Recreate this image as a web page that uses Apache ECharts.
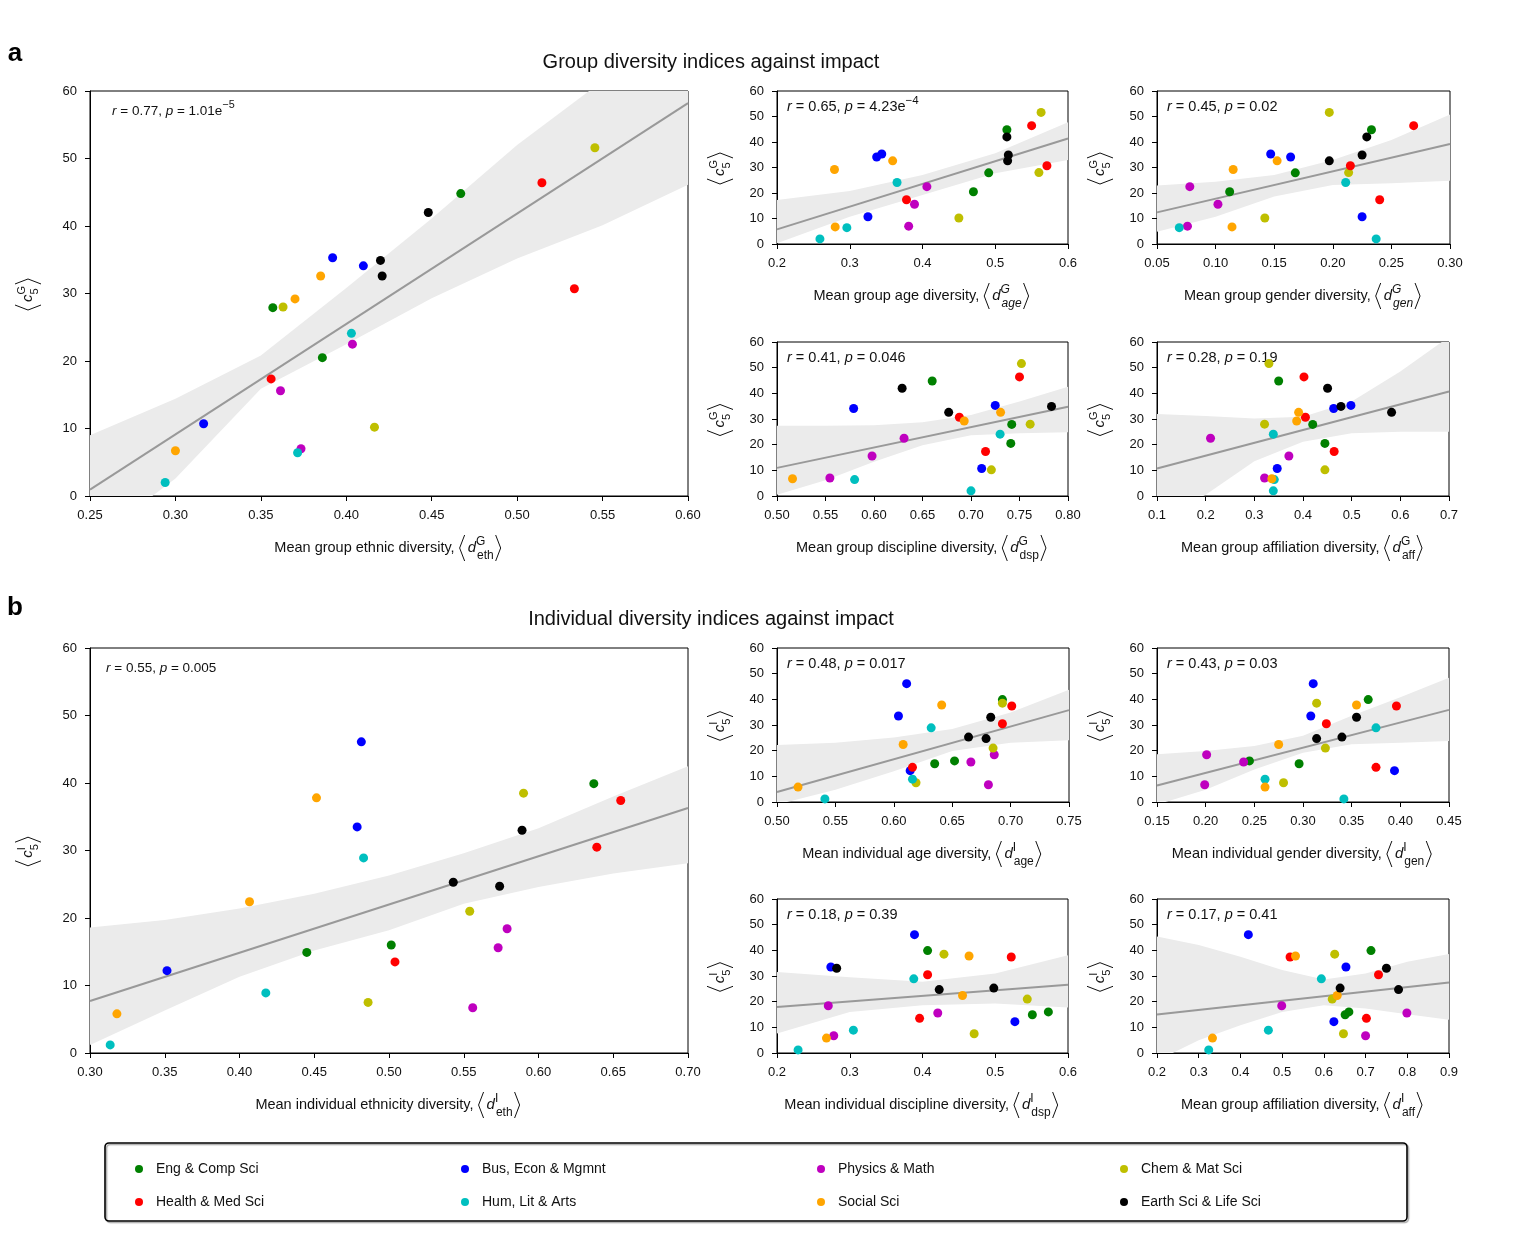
<!DOCTYPE html>
<html>
<head>
<meta charset="utf-8">
<script src="https://cdn.jsdelivr.net/npm/echarts@6/dist/echarts.min.js"></script>
<style>
html, body { margin: 0; padding: 0; background: #fff; }
#chart { width: 1540px; height: 1241px; }
</style>
</head>
<body>
<div id="chart"></div>
<script>
// categories and colours (matplotlib base colours)
var categories = ['Eng & Comp Sci', 'Bus, Econ & Mgmnt', 'Physics & Math', 'Chem & Mat Sci',
	'Health & Med Sci', 'Hum, Lit & Arts', 'Social Sci', 'Earth Sci & Life Sci'];
var colors = ['#008000', '#0000ff', '#bf00bf', '#bfbf00', '#ff0000', '#00bfbf', '#ffa500', '#000000'];

// --- a: group diversity, impact c5^G (3 groups per category) ---
var impactG = [[27.9, 20.5, 44.8], [10.7, 35.3, 34.1], [15.6, 22.5, 7.0], [28.0, 10.2, 51.6],
	[17.35, 46.4, 30.7], [2.0, 24.1, 6.4], [6.7, 29.2, 32.6], [34.9, 32.6, 42.0]];
var ethG = [[0.357, 0.386, 0.467], [0.3165, 0.392, 0.410], [0.3615, 0.4036, 0.3735], [0.363, 0.4165, 0.5455],
	[0.356, 0.5145, 0.5335], [0.294, 0.403, 0.3715], [0.300, 0.370, 0.385], [0.420, 0.421, 0.448]];
var ageG = [[0.491, 0.470, 0.516], [0.325, 0.344, 0.337], [0.389, 0.406, 0.381], [0.560, 0.450, 0.563],
	[0.378, 0.550, 0.571], [0.259, 0.365, 0.296], [0.280, 0.279, 0.359], [0.518, 0.517, 0.516]];
var genG = [[0.168, 0.112, 0.233], [0.225, 0.147, 0.164], [0.102, 0.078, 0.076], [0.2135, 0.142, 0.197],
	[0.240, 0.269, 0.215], [0.237, 0.211, 0.069], [0.114, 0.115, 0.1525], [0.225, 0.197, 0.229]];
var dspG = [[0.742, 0.741, 0.660], [0.711, 0.725, 0.579], [0.598, 0.631, 0.5545], [0.761, 0.721, 0.752],
	[0.715, 0.750, 0.688], [0.700, 0.730, 0.580], [0.516, 0.693, 0.7305], [0.783, 0.677, 0.629]];
var affG = [[0.420, 0.445, 0.350], [0.347, 0.4985, 0.463], [0.371, 0.210, 0.321], [0.321, 0.445, 0.330],
	[0.464, 0.402, 0.405], [0.339, 0.339, 0.341], [0.336, 0.387, 0.391], [0.478, 0.582, 0.4505]];

// --- b: individual diversity, impact c5^I ---
var impactI = [[14.9, 16.0, 39.9], [12.2, 46.1, 33.5], [6.7, 15.6, 18.4], [7.5, 21.0, 38.5],
	[13.5, 30.5, 37.4], [1.2, 8.9, 28.9], [5.8, 22.4, 37.8], [25.3, 24.7, 33.0]];
var ethI = [[0.445, 0.5015, 0.637], [0.3515, 0.4815, 0.4787], [0.556, 0.573, 0.579], [0.486, 0.554, 0.590],
	[0.504, 0.639, 0.655], [0.3135, 0.4176, 0.483], [0.318, 0.4067, 0.4515], [0.543, 0.574, 0.589]];
var ageI = [[0.635, 0.652, 0.693], [0.614, 0.611, 0.604], [0.681, 0.666, 0.686], [0.619, 0.685, 0.693],
	[0.616, 0.693, 0.701], [0.541, 0.616, 0.632], [0.518, 0.608, 0.641], [0.664, 0.679, 0.683]];
var genI = [[0.296, 0.245, 0.367], [0.394, 0.3105, 0.308], [0.199, 0.239, 0.201], [0.280, 0.323, 0.314],
	[0.375, 0.324, 0.396], [0.342, 0.261, 0.375], [0.261, 0.275, 0.355], [0.340, 0.314, 0.355]];
var dspI = [[0.551, 0.573, 0.407], [0.527, 0.389, 0.274], [0.278, 0.421, 0.2705], [0.471, 0.544, 0.4295],
	[0.396, 0.407, 0.522], [0.229, 0.305, 0.388], [0.268, 0.455, 0.464], [0.498, 0.423, 0.282]];
var affI = [[0.651, 0.660, 0.713], [0.624, 0.419, 0.653], [0.700, 0.799, 0.499], [0.647, 0.620, 0.626],
	[0.702, 0.731, 0.519], [0.324, 0.467, 0.594], [0.333, 0.632, 0.532], [0.639, 0.779, 0.750]];

// regression lines [x, y] and confidence bands [x, lower, upper]
var fitEthG = [[0.25, 0.94], [0.60, 58.2]];
var bandEthG = [[0.25, -7, 9.0], [0.30, 2.6, 14.4], [0.35, 15.9, 20.8], [0.40, 22.5, 30.8], [0.45, 29.3, 41.1],
	[0.50, 35.2, 52.0], [0.55, 40.1, 61.5], [0.60, 46.1, 68]];
var fitAgeG = [[0.2, 5.75], [0.6, 41.4]];
var bandAgeG = [[0.2, 0.3, 17.3], [0.3, 10.7, 20.8], [0.4, 19.2, 27.1], [0.5, 27.7, 35.6], [0.6, 32.9, 47.7]];
var fitGenG = [[0.05, 12.4], [0.30, 39.2]];
var bandGenG = [[0.05, 4.8, 22.9], [0.10, 10.7, 24.4], [0.15, 18.6, 27.1], [0.20, 23.1, 32.9], [0.25, 23.8, 40.8], [0.30, 24.8, 50.8]];
var fitDspG = [[0.50, 10.95], [0.80, 34.8]];
var bandDspG = [[0.50, 0.5, 27.4], [0.55, 6.1, 27.4], [0.60, 13.3, 27.6], [0.65, 19.8, 28.7], [0.70, 23.7, 31.6],
	[0.75, 24.4, 36.8], [0.80, 24.8, 42.6]];
var fitAffG = [[0.1, 10.7], [0.7, 40.7]];
var bandAffG = [[0.1, -10, 31.9], [0.2, 0.5, 31.2], [0.3, 13.5, 30.2], [0.4, 21.1, 30.9], [0.5, 24.4, 36.8],
	[0.6, 25.0, 48.5], [0.7, 25.0, 62]];

var fitEthI = [[0.30, 7.7], [0.70, 36.3]];
var bandEthI = [[0.30, 1.2, 18.6], [0.35, 6.3, 19.7], [0.40, 11.3, 21.4], [0.45, 15.2, 23.6], [0.50, 18.2, 26.3],
	[0.55, 22.1, 29.6], [0.60, 24.6, 33.3], [0.65, 26.6, 38.0], [0.70, 28.1, 42.5]];
var fitAgeI = [[0.50, 3.9], [0.75, 35.8]];
var bandAgeI = [[0.50, -1, 22.2], [0.55, 4.8, 23.1], [0.60, 12.0, 25.1], [0.65, 19.9, 28.4], [0.70, 23.1, 34.9], [0.75, 24.1, 43.7]];
var fitGenI = [[0.15, 6.4], [0.45, 35.9]];
var bandGenI = [[0.15, -1, 18.6], [0.20, 4.8, 19.9], [0.25, 12.7, 21.8], [0.30, 19.2, 25.8], [0.35, 22.5, 33.6],
	[0.40, 23.1, 40.8], [0.45, 23.8, 48.4]];
var fitDspI = [[0.2, 17.9], [0.6, 26.6]];
var bandDspI = [[0.2, 7.6, 31.6], [0.3, 16.0, 29.5], [0.4, 18.6, 27.8], [0.5, 19.3, 31.0], [0.6, 17.7, 38.1]];
var fitAffI = [[0.2, 15.0], [0.9, 27.5]];
var bandAffI = [[0.2, -3, 45.4], [0.3, 5.0, 42.1], [0.4, 10.8, 37.5], [0.5, 16.0, 32.3], [0.6, 18.6, 28.6],
	[0.7, 17.3, 31.0], [0.8, 15.1, 35.6], [0.9, 13.0, 38.6]];

// r / p annotations
var statsG = [['0.77', '1.01e', '−5'], ['0.65', '4.23e', '−4'], ['0.45', '0.02'], ['0.41', '0.046'], ['0.28', '0.19']];
var statsI = [['0.55', '0.005'], ['0.48', '0.017'], ['0.43', '0.03'], ['0.18', '0.39'], ['0.17', '0.41']];

var FONT = '"Liberation Sans", Arial, Helvetica, sans-serif';
var measureCtx = document.createElement('canvas').getContext('2d');

function textWidth(str, size, italic) {
	measureCtx.font = (italic ? 'italic ' : '') + size + 'px ' + FONT;
	return measureCtx.measureText(str).width;
}
function textEl(str, x, y, size, italic) {
	return {
		type: 'text', x: x, y: y, silent: true,
		style: {
			text: str, font: (italic ? 'italic ' : '') + size + 'px ' + FONT,
			fill: '#111', textAlign: 'left', textVerticalAlign: 'middle'
		}
	};
}
// lays out text pieces, stacked super/subscripts and angle brackets in one group
function mathGroup(pieces, x, y, align, rotation) {
	var kids = [], cx = 0;
	pieces.forEach(function (p) {
		if (p.br) {
			var w = 5, h = p.h;
			var pts = p.br === 'l'
				? [[cx + 1 + w, -h / 2], [cx + 1, 0], [cx + 1 + w, h / 2]]
				: [[cx + 1, -h / 2], [cx + 1 + w, 0], [cx + 1, h / 2]];
			kids.push({ type: 'polyline', silent: true, shape: { points: pts }, style: { stroke: '#111', lineWidth: 1 } });
			cx += w + 4;
		} else if (p.stack) {
			var w1 = p.sup ? textWidth(p.sup, p.s, p.supIt) : 0;
			var w2 = p.sub ? textWidth(p.sub, p.s, p.subIt) : 0;
			if (p.sup) kids.push(textEl(p.sup, cx, p.up, p.s, p.supIt));
			if (p.sub) kids.push(textEl(p.sub, cx + (p.subShift || 0), p.down, p.s, p.subIt));
			cx += Math.max(w1, w2 + (p.subShift || 0)) + 1;
		} else {
			kids.push(textEl(p.t, cx, p.dy || 0, p.s, p.it));
			cx += textWidth(p.t, p.s, p.it);
		}
	});
	var off = align === 'center' ? -cx / 2 : 0;
	kids.forEach(function (c) {
		if (c.type === 'text') c.x += off;
		else c.shape.points.forEach(function (pt) { pt[0] += off; });
	});
	return { type: 'group', x: x, y: y, rotation: rotation || 0, silent: true, children: kids };
}
function xName(label, sup, sub, subIt) {
	return [
		{ t: label, s: 14.5 }, { br: 'l', h: 26 }, { t: 'd', s: 15, it: true },
		{ stack: true, sup: sup, sub: sub, s: 12, up: -6, down: 8, subShift: 1, supIt: !!subIt, subIt: !!subIt },
		{ br: 'r', h: 26 }
	];
}
function yName(sup) {
	return [
		{ br: 'l', h: 26 }, { t: 'c', s: 15, it: true },
		{ stack: true, sup: sup, sub: '5', s: 11, up: -6, down: 7 },
		{ br: 'r', h: 26 }
	];
}
function statPieces(st, size) {
	var p = [{ t: 'r', s: size, it: true }, { t: ' = ' + st[0] + ', ', s: size }, { t: 'p', s: size, it: true }, { t: ' = ' + st[1], s: size }];
	if (st[2]) p.push({ stack: true, sup: st[2], s: size * 0.8, up: -6 });
	return p;
}

// panel layout: grid [left, top, width, height], x axis [min, max, interval, decimals]
var panels = [
	{ grid: [90, 91, 598, 405], x: [0.25, 0.60, 0.05, 2], xs: ethG, ys: impactG, fit: fitEthG, band: bandEthG, st: statsG[0], big: true, sup: 'G', name: ['Mean group ethnic diversity, ', 'eth'] },
	{ grid: [777, 91, 291, 153], x: [0.2, 0.6, 0.1, 1], xs: ageG, ys: impactG, fit: fitAgeG, band: bandAgeG, st: statsG[1], sup: 'G', name: ['Mean group age diversity, ', 'age', true] },
	{ grid: [1157, 91, 293, 153], x: [0.05, 0.30, 0.05, 2], xs: genG, ys: impactG, fit: fitGenG, band: bandGenG, st: statsG[2], sup: 'G', name: ['Mean group gender diversity, ', 'gen', true] },
	{ grid: [777, 342, 291, 154], x: [0.50, 0.80, 0.05, 2], xs: dspG, ys: impactG, fit: fitDspG, band: bandDspG, st: statsG[3], sup: 'G', name: ['Mean group discipline diversity, ', 'dsp'] },
	{ grid: [1157, 342, 292, 154], x: [0.1, 0.7, 0.1, 1], xs: affG, ys: impactG, fit: fitAffG, band: bandAffG, st: statsG[4], sup: 'G', name: ['Mean group affiliation diversity, ', 'aff'] },
	{ grid: [90, 648, 598, 405], x: [0.30, 0.70, 0.05, 2], xs: ethI, ys: impactI, fit: fitEthI, band: bandEthI, st: statsI[0], big: true, sup: 'I', name: ['Mean individual ethnicity diversity, ', 'eth'] },
	{ grid: [777, 648, 292, 154], x: [0.50, 0.75, 0.05, 2], xs: ageI, ys: impactI, fit: fitAgeI, band: bandAgeI, st: statsI[1], sup: 'I', name: ['Mean individual age diversity, ', 'age'] },
	{ grid: [1157, 648, 292, 154], x: [0.15, 0.45, 0.05, 2], xs: genI, ys: impactI, fit: fitGenI, band: bandGenI, st: statsI[2], sup: 'I', name: ['Mean individual gender diversity, ', 'gen'] },
	{ grid: [777, 899, 291, 154], x: [0.2, 0.6, 0.1, 1], xs: dspI, ys: impactI, fit: fitDspI, band: bandDspI, st: statsI[3], sup: 'I', name: ['Mean individual discipline diversity, ', 'dsp'] },
	{ grid: [1157, 899, 292, 154], x: [0.2, 0.9, 0.1, 1], xs: affI, ys: impactI, fit: fitAffI, band: bandAffI, st: statsI[4], sup: 'I', name: ['Mean group affiliation diversity, ', 'aff'] }
];

function bandRenderer(rows) {
	return function (params, api) {
		if (params.dataIndex !== 0) return;
		var pts = [];
		rows.forEach(function (r) { pts.push(api.coord([r[0], r[2]])); });
		rows.slice().reverse().forEach(function (r) { pts.push(api.coord([r[0], r[1]])); });
		return { type: 'polygon', silent: true, shape: { points: pts }, style: { fill: '#ebebeb' } };
	};
}

var grids = [], xAxes = [], yAxes = [], series = [], graphics = [];
panels.forEach(function (p, k) {
	var g = p.grid;
	grids.push({ left: g[0], top: g[1], width: g[2], height: g[3], show: true, borderColor: '#000', borderWidth: 1 });
	xAxes.push({
		gridIndex: k, type: 'value', min: p.x[0], max: p.x[1], interval: p.x[2],
		axisLine: { show: true, onZero: false, lineStyle: { color: '#000', width: 1 } },
		axisTick: { show: true, length: 5, lineStyle: { color: '#000' } },
		splitLine: { show: false },
		axisLabel: { margin: 13, fontSize: 13, color: '#111', fontFamily: FONT, formatter: function (v) { return v.toFixed(p.x[3]); } }
	});
	yAxes.push({
		gridIndex: k, type: 'value', min: 0, max: 60, interval: 10,
		axisLine: { show: true, onZero: false, lineStyle: { color: '#000', width: 1 } },
		axisTick: { show: true, length: 5, lineStyle: { color: '#000' } },
		splitLine: { show: false },
		axisLabel: { margin: 13, fontSize: 13, color: '#111', fontFamily: FONT }
	});
	series.push({
		type: 'custom', xAxisIndex: k, yAxisIndex: k, clip: true, silent: true, z: 1,
		data: p.band, encode: { x: 0, y: [1, 2] }, renderItem: bandRenderer(p.band)
	});
	series.push({
		type: 'line', xAxisIndex: k, yAxisIndex: k, data: p.fit, symbol: 'none', silent: true, z: 2,
		lineStyle: { color: '#999', width: 2 }
	});
	categories.forEach(function (c, j) {
		series.push({
			type: 'scatter', name: c, xAxisIndex: k, yAxisIndex: k, symbolSize: 9, z: 3,
			itemStyle: { color: colors[j], opacity: 1 },
			data: p.xs[j].map(function (x, i) { return [x, p.ys[j][i]]; })
		});
	});
	// axis names and annotation
	graphics.push(mathGroup(xName(p.name[0], p.sup, p.name[1], p.name[2]), g[0] + g[2] / 2, g[1] + g[3] + 52, 'center'));
	graphics.push(mathGroup(yName(p.sup), p.big ? g[0] - 62 : g[0] - 57, g[1] + g[3] / 2, 'center', Math.PI / 2));
	if (p.big) graphics.push(mathGroup(statPieces(p.st, 13.5), g[0] + (k === 0 ? 22 : 16), g[1] + 20, 'left'));
	else graphics.push(mathGroup(statPieces(p.st, 14.5), g[0] + 10, g[1] + 16, 'left'));
});

graphics.push({ type: 'text', x: 15, y: 54, style: { text: 'a', font: 'bold 26px ' + FONT, fill: '#000', textAlign: 'center', textVerticalAlign: 'middle' } });
graphics.push({ type: 'text', x: 15, y: 608, style: { text: 'b', font: 'bold 26px ' + FONT, fill: '#000', textAlign: 'center', textVerticalAlign: 'middle' } });
graphics.push({ type: 'text', x: 711, y: 62, style: { text: 'Group diversity indices against impact', font: '20px ' + FONT, fill: '#111', textAlign: 'center', textVerticalAlign: 'middle' } });
graphics.push({ type: 'text', x: 711, y: 619, style: { text: 'Individual diversity indices against impact', font: '20px ' + FONT, fill: '#111', textAlign: 'center', textVerticalAlign: 'middle' } });
// legend frame with a faint shadow
graphics.push({
	type: 'rect', silent: true, shape: { x: 105, y: 1143, width: 1302, height: 78, r: 4 },
	style: { fill: 'none', stroke: '#000', lineWidth: 1.6, shadowColor: 'rgba(0,0,0,0.35)', shadowOffsetX: 1.5, shadowOffsetY: 1.5, shadowBlur: 1 }
});

// four legend columns
var legendLeft = [130, 456, 812, 1115];
var legends = legendLeft.map(function (left, c) {
	return {
		orient: 'vertical', left: left, top: 1157, itemWidth: 8, itemHeight: 8, itemGap: 19,
		icon: 'circle', selectedMode: false,
		data: [categories[c], categories[c + 4]],
		textStyle: { fontSize: 14, color: '#111', fontFamily: FONT, padding: [0, 0, 0, 8] }
	};
});

var chart = echarts.init(document.getElementById('chart'), null, { renderer: 'canvas' });
chart.setOption({
	backgroundColor: '#fff',
	animation: false,
	grid: grids,
	xAxis: xAxes,
	yAxis: yAxes,
	legend: legends,
	series: series,
	graphic: { elements: graphics }
});
</script>
</body>
</html>
